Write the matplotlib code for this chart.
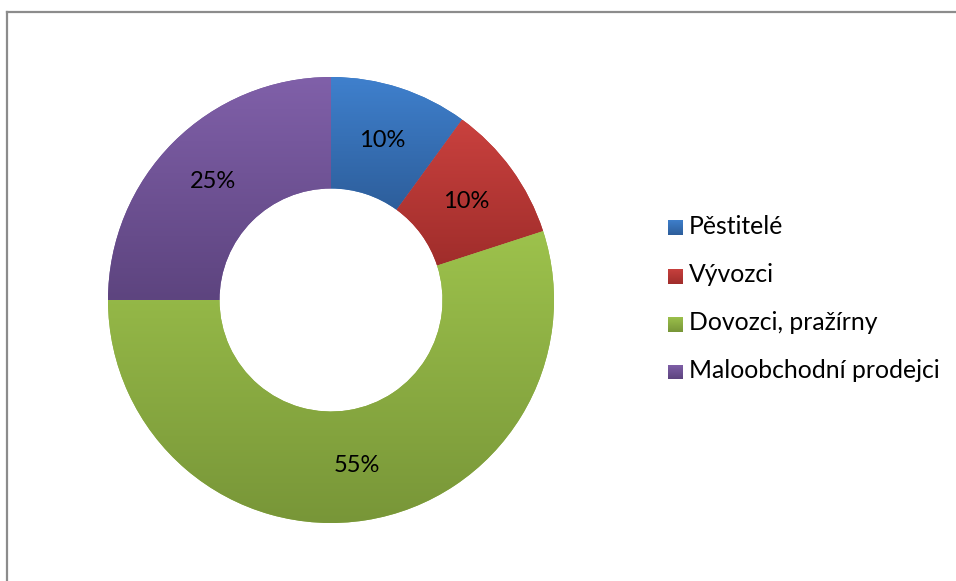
import numpy as np
import matplotlib.pyplot as plt
from matplotlib.colors import LinearSegmentedColormap
from matplotlib.lines import Line2D

# data
kategorie = ["Pěstitelé", "Vývozci", "Dovozci, pražírny", "Maloobchodní prodejci"]
podily = [10, 10, 55, 25]
barvy_horni = ["#3F80CD", "#C9413E", "#9DC24C", "#8060A9"]
barvy_dolni = ["#2D5E9B", "#A02D2B", "#789638", "#5D447F"]
barvy = ["#3A72B8", "#B83A37", "#8DB043", "#6F5396"]

plt.rcParams['font.family'] = ['Lato', 'DejaVu Sans']

W, H = 956, 581
fig = plt.figure(figsize=(W / 100, H / 100), dpi=100)

# ramecek grafu
fig.add_artist(Line2D([7 / W, 7 / W], [0, 1 - 12 / H], color="#8C8C8C", lw=1.6))
fig.add_artist(Line2D([7 / W, 1], [1 - 12 / H, 1 - 12 / H], color="#8C8C8C", lw=1.6))

cx, cy, r = 331, 300, 223
ax = fig.add_axes([(cx - r) / W, (H - cy - r) / H, 2 * r / W, 2 * r / H])

wedges, texts = ax.pie(podily, colors=barvy, startangle=90, counterclock=False,
                       radius=1, wedgeprops=dict(width=0.5, linewidth=0))

# gradient na kazdem dilu
for w, c1, c2 in zip(wedges, barvy_horni, barvy_dolni):
    bb = w.get_path().get_extents(w.get_patch_transform())
    cmap = LinearSegmentedColormap.from_list("g", [c2, c1])
    grad = np.linspace(0, 1, 256).reshape(-1, 1)
    im = ax.imshow(grad, cmap=cmap, origin="lower", aspect="auto",
                   extent=[bb.x0, bb.x1, bb.y0, bb.y1], zorder=w.get_zorder() + 0.1)
    im.set_clip_path(w)

# popisky procent
uhel = 90
for p in podily:
    stred = np.deg2rad(uhel - p / 100 * 360 / 2)
    ax.text(0.75 * np.cos(stred), 0.75 * np.sin(stred), f"{p}%",
            ha="center", va="center", fontsize=17, color="black", zorder=10)
    uhel -= p / 100 * 360

ax.set_xlim(-1, 1)
ax.set_ylim(-1, 1)
ax.set_aspect("equal")
ax.axis("off")

# legenda
for i, (lab, c1, c2) in enumerate(zip(kategorie, barvy_horni, barvy_dolni)):
    y = 228 + i * 48
    cmap = LinearSegmentedColormap.from_list("g", [c2, c1])
    lax = fig.add_axes([668 / W, 1 - (y + 7.5) / H, 15 / W, 15 / H])
    lax.imshow(np.linspace(0, 1, 32).reshape(-1, 1), cmap=cmap, origin="lower",
               aspect="auto", extent=[0, 1, 0, 1])
    lax.axis("off")
    fig.text(689 / W, 1 - (y - 1) / H, lab, ha="left", va="center", fontsize=17.8, color="black")

fig.savefig("out.png", dpi=100)
